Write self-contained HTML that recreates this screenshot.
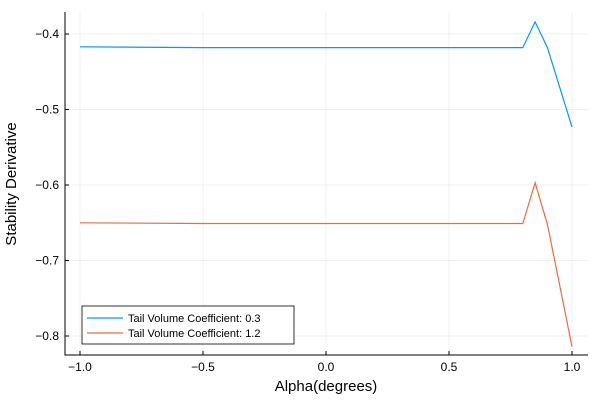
<!DOCTYPE html>
<html><head><meta charset="utf-8"><style>
body{margin:0;background:#fff;font-family:"Liberation Sans",sans-serif}
svg text{font-family:"Liberation Sans",sans-serif}
</style></head><body>
<svg id="c" width="600" height="400"></svg>
<script>
const xs=[-1,-0.5,0,0.5,0.8,0.85,0.9,1.0];
const blueVals=[-0.417,-0.418,-0.418,-0.418,-0.418,-0.384,-0.418,-0.523];
const redVals=[-0.650,-0.651,-0.651,-0.651,-0.651,-0.597,-0.652,-0.814];
const xTicks=[-1,-0.5,0,0.5,1];
const xTickLabels=["−1.0","−0.5","0.0","0.5","1.0"];
const yTicks=[-0.4,-0.5,-0.6,-0.7,-0.8];
const yTickLabels=["−0.4","−0.5","−0.6","−0.7","−0.8"];
const seriesNames=["Tail Volume Coefficient: 0.3","Tail Volume Coefficient: 1.2"];
const NS="http://www.w3.org/2000/svg";
const svg=document.getElementById('c');
const L=65,R=588,T=12,B=355;
const X=v=>80+(v+1)*246;
const Y=v=>34+(-0.4-v)*755;
function mk(t,a,p){const e=document.createElementNS(NS,t);for(const k in a)e.setAttribute(k,a[k]);(p||svg).appendChild(e);return e;}
xTicks.forEach((v,i)=>{
 const g=mk('line',{x1:X(v),x2:X(v),y1:T,y2:B,stroke:'#000','stroke-opacity':0.1,'stroke-width':0.6});
 
 
 const tk=mk('line',{x1:X(v),x2:X(v),y1:B,y2:B-4,stroke:'#000'});
 
 
 const t=mk('text',{x:X(v),y:B+16,'font-size':12,'text-anchor':'middle'});t.textContent=xTickLabels[i];
 
 
});
yTicks.forEach((v,i)=>{
 const g=mk('line',{x1:L,x2:R,y1:Y(v),y2:Y(v),stroke:'#000','stroke-opacity':0.1,'stroke-width':0.6});
 
 
 const tk=mk('line',{x1:L,x2:L+4,y1:Y(v),y2:Y(v),stroke:'#000'});
 
 
 const t=mk('text',{x:L-6,y:Y(v)+4,'font-size':12,'text-anchor':'end'});t.textContent=yTickLabels[i];
 
 
});
const ax=mk('path',{d:`M${L},${T}V${B}H${R}`,fill:'none',stroke:'#000','stroke-width':1});


const xt=mk('text',{x:326,y:391,'font-size':15,'text-anchor':'middle'});xt.textContent='Alpha(degrees)';


const yt=mk('text',{x:0,y:0,'font-size':15,'text-anchor':'middle',transform:'translate(16,184) rotate(-90)'});yt.textContent='Stability Derivative';


const cols=['#009af9','#e26f46'];
[blueVals,redVals].forEach((vals,s)=>{
 const d=vals.map((v,i)=>(i?'L':'M')+X(xs[i]).toFixed(1)+','+Y(v).toFixed(1)).join('');
 const p=mk('path',{d,fill:'none',stroke:cols[s],'stroke-width':1.2});
 
 
});
const lg=mk('g',{});


mk('rect',{x:82,y:306,width:212,height:38,fill:'#fff',stroke:'#000','stroke-width':0.8},lg);
seriesNames.forEach((n,i)=>{
 const y=318+i*15;
 mk('line',{x1:87,x2:123,y1:y,y2:y,stroke:cols[i],'stroke-width':1.2},lg);
 const t=mk('text',{x:128,y:y+4,'font-size':11},lg);t.textContent=n;
 
 
});
</script>
</body></html>
